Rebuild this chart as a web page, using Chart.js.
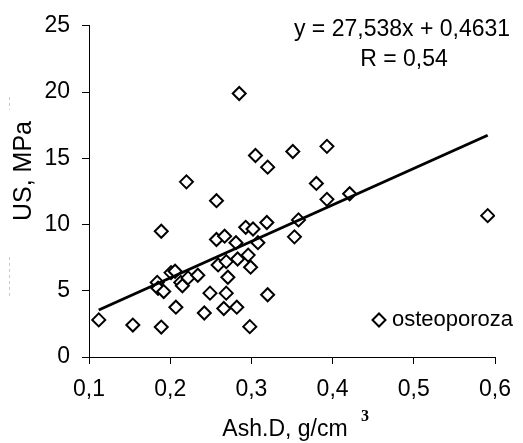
<!DOCTYPE html>
<html>
<head>
<meta charset="utf-8">
<script src="https://cdn.jsdelivr.net/npm/chart.js@4/dist/chart.umd.min.js"></script>
<style>
  html, body { margin: 0; padding: 0; background: #fff; }
</style>
</head>
<body>
<canvas id="chart" width="523" height="443"></canvas>
<script>
// data
const ashD = [0.112, 0.154, 0.189, 0.189, 0.184, 0.185, 0.192, 0.201, 0.206, 0.213,
  0.215, 0.207, 0.222, 0.234, 0.242, 0.249, 0.257, 0.257, 0.267, 0.259,
  0.269, 0.271, 0.269, 0.266, 0.281, 0.283, 0.282, 0.293, 0.302, 0.296,
  0.299, 0.298, 0.308, 0.319, 0.320, 0.285, 0.305, 0.320, 0.220, 0.351,
  0.393, 0.380, 0.393, 0.421, 0.358, 0.353, 0.591];
const usMPa = [2.80, 2.41, 2.26, 9.49, 5.63, 5.19, 4.94, 6.37, 6.47, 5.63,
  5.38, 3.76, 5.97, 6.17, 3.32, 4.82, 11.80, 8.87, 9.12, 6.95,
  7.20, 6.02, 4.82, 3.66, 8.63, 7.40, 3.76, 9.79, 9.66, 7.69,
  6.78, 2.29, 8.63, 10.15, 4.70, 19.89, 15.21, 14.33, 13.22, 15.51,
  15.90, 13.10, 11.90, 12.32, 10.35, 9.07, 10.67];
const slope = 27.538;
const intercept = 0.4631;
const seriesName = 'osteoporoza';
const eqText = 'y = 27,538x + 0,4631';
const rText = 'R = 0,54';
const xTicks = [0.1, 0.2, 0.3, 0.4, 0.5, 0.6];
const yTicks = [0, 5, 10, 15, 20, 25];

const FONT = '"Liberation Sans", Arial, sans-serif';
Chart.defaults.font.family = FONT;
Chart.defaults.color = '#000';

const points = ashD.map((x, i) => ({ x: x, y: usMPa[i] }));
const xMin = Math.min(...ashD), xMax = Math.max(...ashD);
const trend = [
  { x: xMin, y: slope * xMin + intercept },
  { x: xMax, y: slope * xMax + intercept }
];

const comma = v => v.toFixed(1).replace('.', ',');

// titles, equation and legend are drawn by hand
const extras = {
  id: 'extras',
  afterDraw(chart) {
    const ctx = chart.ctx;
    ctx.save();
    ctx.fillStyle = '#000';
    ctx.font = '23px ' + FONT;
    ctx.textAlign = 'center';
    ctx.textBaseline = 'middle';
    ctx.fillText(eqText, 402, 30);
    ctx.fillText(rText, 404, 60);

    // legend
    ctx.fillStyle = '#fff';
    ctx.strokeStyle = '#000';
    ctx.lineWidth = 2;
    Chart.helpers.drawPoint(ctx, { pointStyle: 'rectRot', radius: 6.5, borderWidth: 2, rotation: 0 }, 379, 320);
    ctx.fillStyle = '#000';
    ctx.font = '22px ' + FONT;
    ctx.textAlign = 'left';
    ctx.fillText(seriesName, 392, 320);

    // x title with superscript
    ctx.font = '23px ' + FONT;
    ctx.textAlign = 'center';
    ctx.fillText('Ash.D, g/cm', 285, 430);
    ctx.font = 'bold 16px "Liberation Serif", serif';
    ctx.textAlign = 'left';
    ctx.fillText('3', 361, 417);

    // y title
    ctx.font = '25px ' + FONT;
    ctx.translate(24, 171);
    ctx.rotate(-Math.PI / 2);
    ctx.textAlign = 'center';
    ctx.fillText('US, MPa', 0, 0);
    ctx.restore();

    // faint dashes left of the y title
    ctx.save();
    ctx.strokeStyle = '#c8c8c8';
    ctx.lineWidth = 1;
    ctx.setLineDash([3, 3]);
    ctx.beginPath();
    ctx.moveTo(9.5, 97); ctx.lineTo(9.5, 110);
    ctx.moveTo(9.5, 257); ctx.lineTo(9.5, 297);
    ctx.stroke();
    ctx.restore();
  }
};

new Chart(document.getElementById('chart'), {
  type: 'scatter',
  data: {
    datasets: [
      {
        label: seriesName,
        data: points,
        pointStyle: 'rectRot',
        pointRadius: 6.5,
        pointBorderWidth: 2,
        pointBorderColor: '#000',
        pointBackgroundColor: '#fff',
        order: 1
      },
      {
        type: 'line',
        label: 'trend',
        data: trend,
        borderColor: '#000',
        borderWidth: 3,
        pointRadius: 0,
        fill: false,
        order: 0
      }
    ]
  },
  options: {
    responsive: false,
    animation: false,
    devicePixelRatio: 1,
    layout: { padding: { top: 18, right: 21, left: 0, bottom: 0 } },
    plugins: {
      legend: { display: false },
      tooltip: { enabled: false }
    },
    scales: {
      x: {
        type: 'linear',
        min: 0.1,
        max: 0.6,
        afterBuildTicks: s => { s.ticks = xTicks.map(v => ({ value: v })); },
        afterFit: s => { s.height = 86; },
        ticks: { font: { size: 23 }, padding: 12, callback: v => comma(v) },
        grid: { drawOnChartArea: false, drawTicks: true, tickLength: 7, color: '#000' },
        border: { display: true, color: '#000', width: 1 }
      },
      y: {
        min: 0,
        max: 25,
        afterBuildTicks: s => { s.ticks = yTicks.map(v => ({ value: v })); },
        afterFit: s => { s.width = 89; },
        ticks: { font: { size: 23 }, padding: 12 },
        grid: { drawOnChartArea: false, drawTicks: true, tickLength: 7, color: '#000' },
        border: { display: true, color: '#000', width: 1 }
      }
    }
  },
  plugins: [extras]
});
</script>
</body>
</html>
